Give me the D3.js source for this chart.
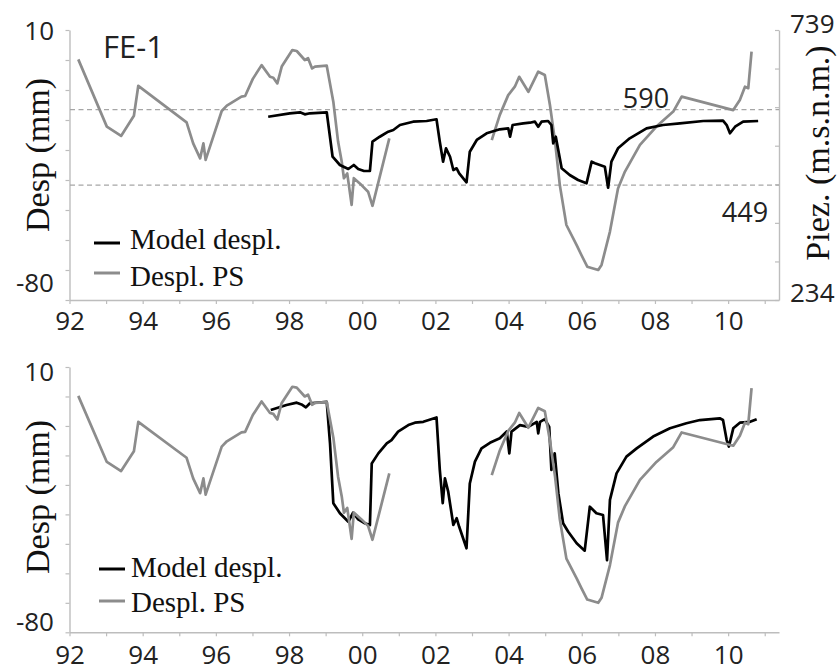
<!DOCTYPE html>
<html>
<head>
<meta charset="utf-8">
<script src="https://cdn.jsdelivr.net/npm/d3@7"></script>
<style>
  body { margin: 0; background: #fff; }
  svg { display: block; }
</style>
</head>
<body>
<div id="chart"></div>
<script>
// Displacement PS (mm), same series in both panels; null = no data
const psYears = [1992.24, 1993.02, 1993.41, 1993.76, 1993.88, 1995.20, 1995.38, 1995.57, 1995.66, 1995.72,
  1996.16, 1996.30, 1996.70, 1996.80, 1997.01, 1997.25, 1997.48, 1997.57, 1997.68, 1997.80,
  1998.09, 1998.21, 1998.43, 1998.52, 1998.63, 1998.71, 1999.03, 1999.21, 1999.34, 1999.44,
  1999.50, 1999.59, 1999.71, 1999.77, 1999.98, 2000.16, 2000.28, 2000.74, 2002.00,
  2003.54, 2003.76, 2003.99, 2004.17, 2004.29, 2004.54, 2004.81, 2004.99, 2005.13, 2005.27,
  2005.40, 2005.58, 2005.86, 2005.99, 2006.15, 2006.45, 2006.54, 2006.77, 2006.99, 2007.18,
  2007.59, 2008.04, 2008.50, 2008.73, 2010.14, 2010.32, 2010.46, 2010.55, 2010.64];
const psDispl = [0.2, -22.2, -25.3, -18.6, -8.6, -20.8, -27.8, -32.8, -27.8, -33.3,
  -17.0, -15.2, -12.2, -12.0, -6.3, -1.7, -5.6, -5.9, -7.8, -2.2,
  3.3, 3.0, 0.0, 0.6, -2.8, -2.2, -1.9, -13.9, -27.2, -33.9,
  -39.4, -37.8, -48.3, -39.4, -41.7, -43.9, -48.6, -26.1, null,
  -26.7, -18.3, -11.7, -8.9, -5.6, -10.6, -3.9, -5.0, -15.0, -27.2,
  -41.7, -55.0, -61.7, -65.0, -68.9, -70.0, -68.3, -57.2, -42.8, -37.2,
  -28.3, -22.2, -17.2, -12.2, -16.7, -13.3, -8.9, -9.4, 2.8];

// Piezometric level (m.s.n.m.), top panel, right axis
const piezYears = [1997.43, 1998.02, 1998.30, 1998.43, 1998.57, 1999.03, 1999.19, 1999.39, 1999.62, 1999.77,
  1999.89, 2000.05, 2000.21, 2000.28, 2000.48, 2000.71, 2000.85, 2001.03, 2001.39, 2001.76,
  2002.03, 2002.12, 2002.21, 2002.29, 2002.40, 2002.49, 2002.58, 2002.65, 2002.85, 2002.94,
  2003.13, 2003.40, 2003.76, 2003.99, 2004.04, 2004.11, 2004.40, 2004.58, 2004.72, 2004.81,
  2004.90, 2005.08, 2005.17, 2005.22, 2005.29, 2005.45, 2005.67, 2005.90, 2006.13, 2006.27,
  2006.36, 2006.63, 2006.72, 2006.81, 2006.99, 2007.31, 2007.77, 2008.22, 2008.68, 2009.32,
  2009.86, 2009.96, 2010.05, 2010.19, 2010.41, 2010.82];
const piezLevel = [576.8, 583.2, 585.1, 581.3, 583.2, 585.1, 502.0, 486.5, 479.0, 486.5,
  479.0, 475.3, 475.3, 530.1, 539.4, 548.8, 552.0, 561.3, 567.5, 568.8,
  572.0, 530.1, 492.7, 517.7, 502.0, 477.1, 480.3, 471.0, 454.1, 511.4,
  533.3, 545.8, 553.3, 555.1, 539.4, 561.3, 564.5, 565.6, 567.5, 558.1,
  567.5, 568.8, 561.3, 527.1, 539.4, 480.3, 467.8, 458.4, 452.3, 492.7,
  489.7, 483.3, 444.0, 492.7, 517.7, 536.4, 555.1, 561.3, 564.5, 568.8,
  569.4, 561.3, 545.8, 558.1, 567.5, 568.8];

// Model displacement (mm), bottom panel
const modelYears = [1997.50, 1997.93, 1998.21, 1998.34, 1998.46, 1998.57, 1999.03, 1999.12, 1999.21, 1999.39,
  1999.62, 1999.75, 1999.89, 2000.07, 2000.21, 2000.26, 2000.44, 2000.67, 2000.80, 2000.98,
  2001.26, 2001.44, 2001.67, 2002.03, 2002.12, 2002.20, 2002.26, 2002.35, 2002.49, 2002.58,
  2002.65, 2002.85, 2002.94, 2003.08, 2003.26, 2003.49, 2003.76, 2003.95, 2004.02, 2004.08,
  2004.31, 2004.54, 2004.77, 2004.81, 2004.86, 2004.99, 2005.11, 2005.17, 2005.26, 2005.36,
  2005.49, 2005.63, 2005.86, 2006.08, 2006.22, 2006.40, 2006.58, 2006.69, 2006.77, 2006.95,
  2007.22, 2007.50, 2007.95, 2008.41, 2008.86, 2009.23, 2009.77, 2009.86, 2009.96, 2010.02,
  2010.14, 2010.32, 2010.60, 2010.78];
const modelDispl = [-4.6, -2.9, -2.1, -2.7, -3.7, -2.3, -1.8, -15.9, -36.2, -39.6,
  -42.5, -39.4, -41.7, -43.0, -43.6, -22.7, -19.3, -15.9, -14.8, -11.9,
  -9.7, -8.9, -8.6, -7.1, -24.9, -36.2, -27.8, -32.3, -43.6, -41.3,
  -44.2, -51.5, -29.5, -22.1, -17.6, -15.7, -14.2, -11.9, -19.3, -11.9,
  -9.7, -10.3, -8.6, -12.5, -8.6, -7.7, -10.3, -24.9, -19.3, -32.8,
  -43.0, -45.9, -49.8, -52.3, -37.4, -39.6, -40.2, -55.5, -35.1, -26.1,
  -20.4, -17.6, -13.6, -10.8, -9.1, -8.0, -7.4, -8.0, -14.8, -17.0,
  -10.8, -8.9, -8.6, -7.7];

const xTicks = d3.range(1992, 2012);
const leftTicks = [10, 0, -10, -20, -30, -40, -50, -60, -70, -80];
const rightTicks = [739, 666.9, 594.7, 522.6, 450.4, 378.3, 306.1, 234];
const levelLines = [590, 449];

const width = 840, height = 671;
const numFont = "'Open Sans', 'Liberation Sans', sans-serif";
const serif = "'Liberation Serif', 'Times New Roman', serif";
const axisColor = "#bdbdbd", grayLine = "#8c8c8c";

const svg = d3.select("#chart").append("svg")
  .attr("width", width).attr("height", height);

const x = d3.scaleLinear().domain([1992, 2011.39]).range([69.5, 779]);

const ps = psYears.map((d, i) => ({ t: d, v: psDispl[i] }));
const piez = piezYears.map((d, i) => ({ t: d, v: piezLevel[i] }));
const model = modelYears.map((d, i) => ({ t: d, v: modelDispl[i] }));

function xAxis(g, yPos, pad) {
  g.attr("transform", `translate(0,${yPos})`)
    .call(d3.axisBottom(x).tickValues(xTicks).tickSize(4).tickSizeOuter(0).tickPadding(pad)
      .tickFormat(d => d % 2 === 0 ? String(d).slice(2) : ""));
  g.select(".domain").attr("stroke", axisColor).attr("stroke-width", 1.4);
  g.selectAll(".tick line").attr("stroke", axisColor).attr("stroke-width", 1.2);
  g.selectAll(".tick text").attr("font-family", numFont).attr("font-size", 26).attr("fill", "#222");
}

function yAxisLeft(g, y) {
  g.attr("transform", "translate(69.5,0)")
    .call(d3.axisLeft(y).tickValues(leftTicks).tickSize(4).tickSizeOuter(0).tickFormat(""));
  g.select(".domain").attr("stroke", axisColor).attr("stroke-width", 1.4);
  g.selectAll(".tick line").attr("stroke", axisColor).attr("stroke-width", 1.2);
}

function label(txt, xx, yy, anchor, size) {
  svg.append("text").attr("x", xx).attr("y", yy).attr("text-anchor", anchor)
    .attr("font-family", numFont).attr("font-size", size).attr("fill", "#222").text(txt);
}

function legend(x0, x1, tx, rows) {
  const lg = svg.append("g");
  rows.forEach(r => {
    lg.append("line").attr("x1", x0).attr("x2", x1)
      .attr("y1", r.ly).attr("y2", r.ly)
      .attr("stroke", r.color).attr("stroke-width", 3);
    lg.append("text").attr("x", tx).attr("y", r.ty)
      .attr("font-family", serif).attr("font-size", 29).attr("fill", "#111").text(r.name);
  });
}

function yTitle(txt, xx, yy, size) {
  svg.append("text").attr("transform", `translate(${xx},${yy}) rotate(-90)`)
    .attr("text-anchor", "middle").attr("font-family", serif)
    .attr("font-size", size).attr("fill", "#111").text(txt);
}

// ---------- top panel ----------
const yTop = d3.scaleLinear().domain([-80, 10]).range([300, 30]);
const yPiez = d3.scaleLinear().domain([234, 739]).range([300, 30]);

svg.append("g").call(g => xAxis(g, 300, 8));
svg.append("g").call(g => yAxisLeft(g, yTop));

const rAx = svg.append("g").attr("transform", "translate(779,0)")
  .call(d3.axisLeft(yPiez).tickValues(rightTicks).tickSize(4).tickSizeOuter(0).tickFormat(""));
rAx.select(".domain").attr("stroke", axisColor).attr("stroke-width", 1.4);
rAx.selectAll(".tick line").attr("stroke", axisColor).attr("stroke-width", 1.2);

svg.append("g").selectAll("line").data(levelLines).join("line")
  .attr("x1", 70).attr("x2", 779)
  .attr("y1", d => yPiez(d)).attr("y2", d => yPiez(d))
  .attr("stroke", "#a6a6a6").attr("stroke-width", 1.3).attr("stroke-dasharray", "5,3.5");

const lineTopPs = d3.line().defined(d => d.v !== null).x(d => x(d.t)).y(d => yTop(d.v));
const linePiez = d3.line().x(d => x(d.t)).y(d => yPiez(d.v));

svg.append("path").datum(ps).attr("d", lineTopPs)
  .attr("fill", "none").attr("stroke", grayLine).attr("stroke-width", 2.7).attr("stroke-linejoin", "round");
svg.append("path").datum(piez).attr("d", linePiez)
  .attr("fill", "none").attr("stroke", "#000").attr("stroke-width", 2.7).attr("stroke-linejoin", "round");

label("10", 54, 40, "end", 26);
label("-80", 54, 292, "end", 26);
label("739", 790, 33, "start", 26);
label("234", 790, 302, "start", 26);
label("590", 646, 108, "middle", 27);
label("449", 745, 222, "middle", 27);
label("FE-1", 103, 58, "start", 31);

yTitle("Desp (mm)", 49, 155, 34);
yTitle("Piez. (m.s.n.m.)", 829, 153, 34);

legend(94, 120, 130, [
  { name: "Model despl.", color: "#000", ly: 243, ty: 249 },
  { name: "Despl. PS", color: grayLine, ly: 273, ty: 286 }
]);

// ---------- bottom panel ----------
const yBot = d3.scaleLinear().domain([-80, 10]).range([632.3, 367]);

svg.append("g").call(g => xAxis(g, 632.3, 9));
svg.append("g").call(g => yAxisLeft(g, yBot));

const lineBotPs = d3.line().defined(d => d.v !== null).x(d => x(d.t)).y(d => yBot(d.v));
const lineModel = d3.line().x(d => x(d.t)).y(d => yBot(d.v));

svg.append("path").datum(model).attr("d", lineModel)
  .attr("fill", "none").attr("stroke", "#000").attr("stroke-width", 2.7).attr("stroke-linejoin", "round");
svg.append("path").datum(ps).attr("d", lineBotPs)
  .attr("fill", "none").attr("stroke", grayLine).attr("stroke-width", 2.7).attr("stroke-linejoin", "round");

label("10", 54, 381, "end", 26);
label("-80", 54, 631, "end", 26);

yTitle("Desp (mm)", 49, 497, 34);

legend(99, 125, 131, [
  { name: "Model despl.", color: "#000", ly: 569, ty: 577 },
  { name: "Despl. PS", color: grayLine, ly: 601, ty: 612 }
]);
</script>
</body>
</html>
